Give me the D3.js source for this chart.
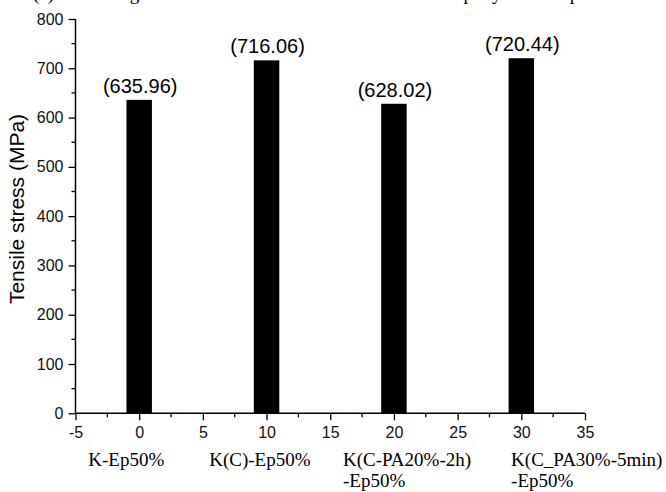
<!DOCTYPE html>
<html>
<head>
<meta charset="utf-8">
<script src="https://cdn.jsdelivr.net/npm/d3@7"></script>
<style>
  html, body { margin: 0; padding: 0; background: #fff; }
  svg { display: block; }
</style>
</head>
<body>
<svg id="chart" width="666" height="492"></svg>
<script>
// ---- data ----
const categories = ["K-Ep50%", "K(C)-Ep50%", "K(C-PA20%-2h)\n-Ep50%", "K(C_PA30%-5min)\n-Ep50%"];
const xPositions = [0, 10, 20, 30];
const stressValues = [635.96, 716.06, 628.02, 720.44];
const valueLabels = ["(635.96)", "(716.06)", "(628.02)", "(720.44)"];
const xTicks = [-5, 0, 5, 10, 15, 20, 25, 30, 35];
const yTicks = [0, 100, 200, 300, 400, 500, 600, 700, 800];
const yTitle = "Tensile stress (MPa)";
// category label anchors, in x-axis units (layout)
const categoryLabelAt = [-4.0, 5.5, 16.0, 29.2];

// ---- layout ----
const svg = d3.select("#chart");
const x = d3.scaleLinear().domain([-5, 35]).range([75.5, 585]);
const y = d3.scaleLinear().domain([0, 800]).range([413.3, 19]);
const barHalf = 1; // half width in x units

const sans = "Arial, 'Liberation Sans', sans-serif";
const serif = "'Times New Roman', 'Liberation Serif', serif";

// cropped caption line at the top (only descenders visible)
const cap = svg.append("text").attr("y", -0.5).attr("font-family", serif)
  .attr("font-size", 19).attr("fill", "#000");
cap.append("tspan").attr("x", 33).text("(a) The strength of the Kevlar fiber reinforced");
cap.append("tspan").attr("x", 455).text("epoxy");
cap.append("tspan").attr("x", 537).text("composites");

// bars
svg.append("g").selectAll("rect")
  .data(stressValues)
  .join("rect")
  .attr("x", (d, i) => x(xPositions[i] - barHalf))
  .attr("width", (d, i) => x(xPositions[i] + barHalf) - x(xPositions[i] - barHalf))
  .attr("y", d => y(d))
  .attr("height", d => y(0) - y(d))
  .attr("fill", "#000");

// value labels
svg.append("g").selectAll("text")
  .data(stressValues)
  .join("text")
  .attr("x", (d, i) => x(xPositions[i]) + 1)
  .attr("y", d => y(d) - 7)
  .attr("text-anchor", "middle")
  .attr("font-family", sans)
  .attr("font-size", 20)
  .attr("fill", "#000")
  .text((d, i) => valueLabels[i]);

const fmt = d => String(d);

// y axis
const yAxis = svg.append("g").attr("transform", `translate(${x(-5)},0)`)
  .call(d3.axisLeft(y).tickValues(yTicks).tickSize(7).tickPadding(5).tickFormat(fmt));
const yMinor = d3.range(50, 800, 100);
yAxis.selectAll(".minor").data(yMinor).join("line").attr("class", "minor")
  .attr("x1", 0).attr("x2", -4).attr("y1", d => y(d)).attr("y2", d => y(d))
  .attr("stroke", "#000").attr("stroke-width", 1.3);

// x axis
const xAxis = svg.append("g").attr("transform", `translate(0,${y(0)})`)
  .call(d3.axisBottom(x).tickValues(xTicks).tickSize(7).tickPadding(6).tickFormat(fmt));
const xMinor = d3.range(-2.5, 35, 5);
xAxis.selectAll(".minor").data(xMinor).join("line").attr("class", "minor")
  .attr("y1", 0).attr("y2", 4).attr("x1", d => x(d)).attr("x2", d => x(d))
  .attr("stroke", "#000").attr("stroke-width", 1.3);

[yAxis, xAxis].forEach(g => {
  g.select(".domain").attr("stroke", "#000").attr("stroke-width", 1.5)
    .attr("d", g === yAxis ? `M0,${y(0)}V${y(800)}` : `M${x(-5)},0H${x(35)}`);
  g.selectAll(".tick line").attr("stroke", "#000").attr("stroke-width", 1.3);
  g.selectAll(".tick text").attr("font-family", sans).attr("font-size", 16).attr("fill", "#111");
});

// y title
svg.append("text")
  .attr("transform", `translate(23.5,${209}) rotate(-90)`)
  .attr("text-anchor", "middle")
  .attr("font-family", sans)
  .attr("font-size", 21)
  .attr("fill", "#000")
  .text(yTitle);

// category labels below axis
const cat = svg.append("g").selectAll("text")
  .data(categories)
  .join("text")
  .attr("font-family", serif)
  .attr("font-size", 19)
  .attr("fill", "#000");
cat.each(function(d, i) {
  const lines = d.split("\n");
  const t = d3.select(this);
  lines.forEach((ln, k) => {
    t.append("tspan").attr("x", x(categoryLabelAt[i])).attr("y", 466 + k * 20.5).text(ln);
  });
});
</script>
</body>
</html>
